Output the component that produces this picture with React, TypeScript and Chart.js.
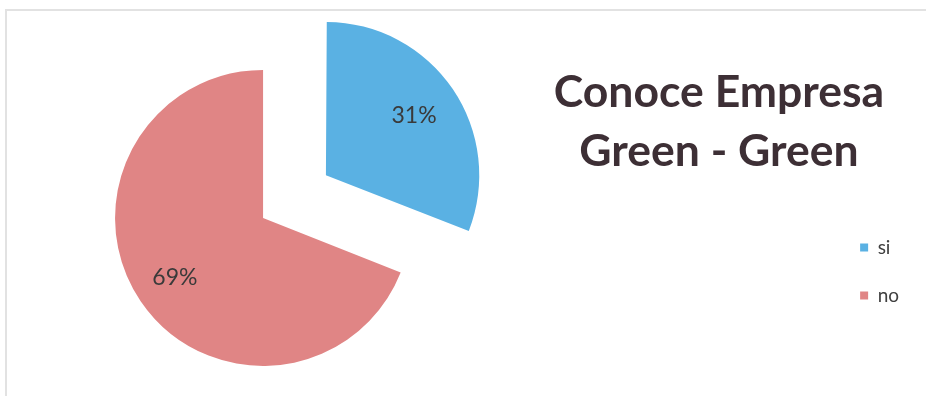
import React, { useEffect, useRef } from "react";
import { Chart, registerables } from "chart.js";

Chart.register(...registerables);

const labels = ["si", "no"];
const values = [31, 69];
const sliceColors = ["#5ab1e3", "#e08585"];
const titleLines = ["Conoce Empresa", "Green - Green"];

const FONT = "Lato, 'Open Sans', sans-serif";
// The canvas is wider than the page and shifted left so the pie sits left of centre.
const SHIFT = 305;
const CANVAS_W = 926 + SHIFT;
const EXPLODE = 304;

const titlePlugin = {
  id: "sideTitle",
  afterDraw(chart: any) {
    const ctx = chart.ctx;
    ctx.save();
    ctx.font = `bold 44.5px ${FONT}`;
    ctx.fillStyle = "#3d2f35";
    ctx.textAlign = "center";
    ctx.textBaseline = "alphabetic";
    titleLines.forEach((t, i) => ctx.fillText(t, 719 + SHIFT, 107 + i * 59));
    ctx.restore();
  },
};

const pctPlugin = {
  id: "pctLabels",
  afterDatasetsDraw(chart: any) {
    const ctx = chart.ctx;
    const meta = chart.getDatasetMeta(0);
    const data: number[] = chart.data.datasets[0].data;
    const total = data.reduce((a, b) => a + b, 0);
    ctx.save();
    ctx.font = `23px ${FONT}`;
    ctx.fillStyle = "#3a3a3a";
    ctx.textAlign = "center";
    ctx.textBaseline = "middle";
    meta.data.forEach((arc: any, i: number) => {
      const { x, y, startAngle, endAngle, outerRadius } = arc.getProps(
        ["x", "y", "startAngle", "endAngle", "outerRadius"],
        true
      );
      const mid = (startAngle + endAngle) / 2;
      const shift = (arc.options.offset || 0) / 4;
      const d = shift + outerRadius * 0.72;
      const pct = Math.round((data[i] / total) * 100) + "%";
      ctx.fillText(pct, x + Math.cos(mid) * d, y + Math.sin(mid) * d);
    });
    ctx.restore();
  },
};

export default function App() {
  const canvasRef = useRef<HTMLCanvasElement | null>(null);

  useEffect(() => {
    if (!canvasRef.current) return;
    const chart = new Chart(canvasRef.current, {
      type: "pie",
      data: {
        labels,
        datasets: [
          {
            data: values,
            backgroundColor: sliceColors,
            borderWidth: 0,
            offset: [EXPLODE, 0],
          },
        ],
      },
      options: {
        responsive: false,
        animation: false,
        radius: 148,
        cutout: "0%",
        layout: { padding: { left: 0, right: 17, top: 102, bottom: 62 } },
        plugins: {
          title: { display: false },
          tooltip: { enabled: false },
          legend: {
            position: "right",
            align: "end",
            labels: {
              boxWidth: 8,
              boxHeight: 8,
              padding: 29,
              color: "#404040",
              font: { family: FONT, size: 19 },
            },
          },
        },
      } as any,
      plugins: [titlePlugin, pctPlugin],
    });
    return () => chart.destroy();
  }, []);

  return (
    <div
      style={{
        position: "fixed",
        left: 0,
        top: 0,
        width: 926,
        height: 396,
        background: "#ffffff",
        overflow: "hidden",
      }}
    >
      <div
        style={{
          position: "absolute",
          left: 5,
          top: 9,
          width: 940,
          height: 400,
          borderLeft: "2px solid #e2e2e2",
          borderTop: "2px solid #e2e2e2",
        }}
      />
      <canvas
        ref={canvasRef}
        width={CANVAS_W}
        height={396}
        style={{ position: "absolute", left: -SHIFT, top: 0, width: CANVAS_W, height: 396 }}
      />
    </div>
  );
}
